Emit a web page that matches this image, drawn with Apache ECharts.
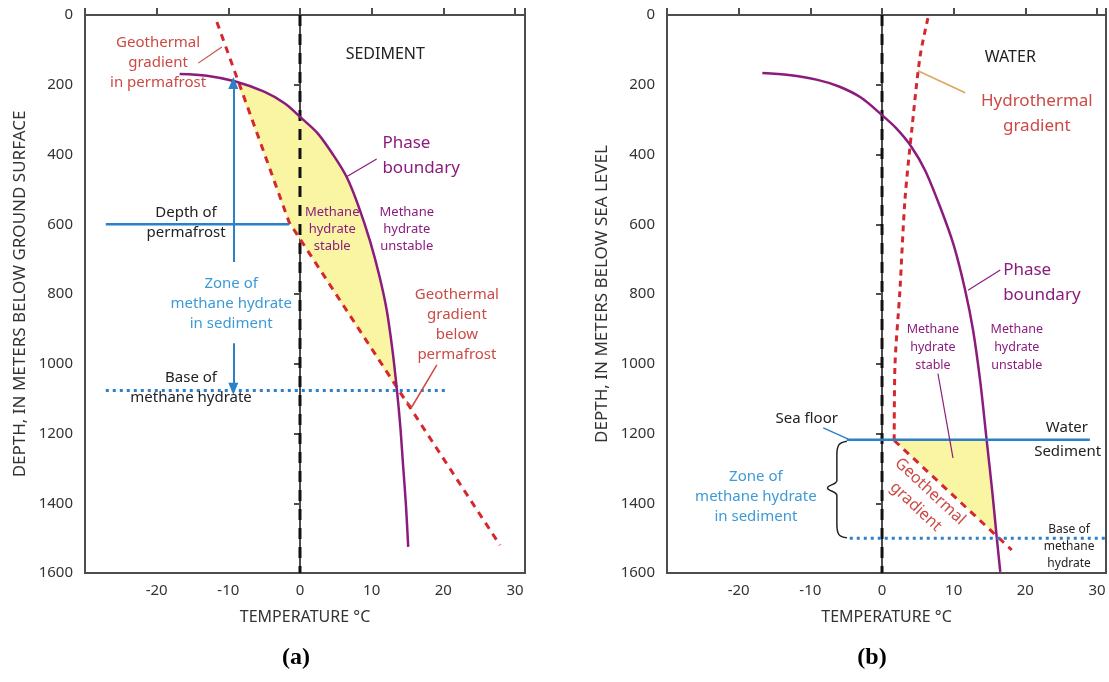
<!DOCTYPE html>
<html>
<head>
<meta charset="utf-8">
<script src="https://cdn.jsdelivr.net/npm/echarts@6/dist/echarts.min.js"></script>
<style>
  html, body { margin: 0; padding: 0; background: #fff; }
  #chart { width: 1109px; height: 682px; }
</style>
</head>
<body>
<div id="chart"></div>
<script>
  // ---- panel (a): permafrost ----
  const phaseA = [[-16.8, 169], [-13, 174], [-9.1, 190], [-5, 220], [-2, 255], [0, 292], [2.5, 340], [4.6, 400],
    [6.5, 464], [8.2, 550], [9.8, 650], [11.1, 750], [12.1, 846], [12.9, 960], [13.5, 1070], [14.0, 1180],
    [14.4, 1295], [14.8, 1410], [15.1, 1525]]
  const geoA = [[-11.6, 20], [-1.5, 595], [27.9, 1520]]
  const fillA = [[-8.8, 192], [-5, 220], [-2, 255], [0, 292], [2.5, 340], [4.6, 400], [6.5, 464], [8.2, 550],
    [9.8, 650], [11.1, 750], [12.1, 846], [12.9, 960], [13.55, 1075], [-1.5, 595]]
  const permafrostA = [[-27.1, 600], [-1.5, 600]]
  const baseA = [[-27.1, 1077], [20.5, 1077]]
  const arrowUpA = [[-9.3, 708], [-9.3, 195]]
  const arrowDownA = [[-9.3, 941], [-9.3, 1072]]
  const leaderRedA1 = [[-14.2, 138], [-10.9, 92]]
  const leaderRedA2 = [[14.9, 1108], [15.6, 1124], [19.1, 1003]]
  const leaderPurpleA = [[6.5, 464], [10.7, 413]]

  const redTextA = [[-19.8, 137, 'Geothermal\ngradient\nin permafrost'], [21.9, 889, 'Geothermal\ngradient\nbelow\npermafrost']]
  const phaseTextA = [[11.5, 402, 'Phase\nboundary']]
  const smallTextA = [[4.5, 614, 'Methane\nhydrate\nstable'], [14.9, 614, 'Methane\nhydrate\nunstable']]
  const headTextA = [[11.9, 112, 'SEDIMENT']]
  const blackTextA = [[-15.9, 596, 'Depth of\npermafrost'], [-15.2, 1070, 'Base of\nmethane hydrate']]
  const blueTextA = [[-9.6, 828, 'Zone of\nmethane hydrate\nin sediment']]

  // ---- panel (b): marine ----
  const phaseB = [[-16.7, 166], [-13, 172], [-9, 186], [-6, 205], [-3, 236], [0, 287], [2, 325], [4, 375], [6, 445],
    [8.1, 550], [10, 660], [11.6, 789], [12.7, 903], [13.7, 1050], [14.6, 1219], [15.4, 1370], [16.0, 1497], [16.5, 1597]]
  const hydroB = [[6.4, 9], [5.3, 120], [4.2, 320], [3.2, 530], [2.5, 789], [1.8, 1008], [1.7, 1220]]
  const geoB = [[1.7, 1220], [18.1, 1534]]
  const fillB = [[1.7, 1220], [14.6, 1219], [15.4, 1370], [15.9, 1490]]
  const seafloorB = [[-4.9, 1218], [29, 1218]]
  const baseB = [[-4.5, 1500], [31.25, 1500]]
  const braceB = [[-4.9, 1222], [-6.0, 1232], [-6.3, 1262], [-6.3, 1335], [-7.6, 1356], [-6.3, 1378], [-6.3, 1460],
    [-6.0, 1490], [-4.9, 1499]]
  const leaderHydroB = [[5.0, 160], [11.6, 223]]
  const leaderPhaseB = [[12.0, 789], [16.5, 731]]
  const leaderStableB = [[7.8, 1028], [9.9, 1270]]
  const leaderSeaB = [[-8.2, 1184], [-4.7, 1216]]

  const redTextB = [[21.6, 284, 'Hydrothermal\ngradient']]
  const geoTextB = [[5.7, 1388, 'Geothermal\ngradient']]
  const phaseTextB = [[16.9, 768, 'Phase\nboundary']]
  const smallTextB = [[7.1, 952, 'Methane\nhydrate\nstable'], [18.8, 952, 'Methane\nhydrate\nunstable']]
  const headTextB = [[17.9, 121, 'WATER']]
  const blackTextB = [[25.8, 1184, 'Water'], [25.9, 1253, 'Sediment'], [-10.5, 1158, 'Sea floor']]
  const tinyTextB = [[26.1, 1523, 'Base of\nmethane\nhydrate']]
  const blueTextB = [[-17.6, 1382, 'Zone of\nmethane hydrate\nin sediment']]

  const zeroLine = [[0, 0], [0, 1600]]
  const xTicks = [-20, -10, 0, 10, 20, 30]

  const FONT = '"Noto Sans", "Open Sans", sans-serif'
  const RED = '#d4282e', RED_TXT = '#cc4a45', PURPLE = '#8b1c7d', BLUE = '#2b80c8', BLUE_TXT = '#3d9ad6'
  const YELLOW = '#faf5a3', BLACK = '#111', AXIS = '#4d4d4d'

  function lineS(i, data, color, width, type, extra) {
    return Object.assign({
      type: 'line', xAxisIndex: i, yAxisIndex: i, data: data, showSymbol: false, symbol: 'none',
      silent: true, animation: false, z: 3,
      lineStyle: {color: color, width: width, type: type || 'solid', cap: 'butt'}
    }, extra || {})
  }

  function arrowS(i, pts, color) {
    return {
      type: 'line', xAxisIndex: i, yAxisIndex: i, data: [], silent: true, animation: false,
      markLine: {
        silent: true, animation: false, symbol: ['none', 'triangle'], symbolSize: [10, 12],
        label: {show: false},
        lineStyle: {color: color, width: 2, type: 'solid'},
        data: [[{coord: pts[0]}, {coord: pts[1]}]]
      }
    }
  }

  function fillS(i, pts) {
    return {
      type: 'custom', xAxisIndex: i, yAxisIndex: i, data: pts, silent: true, animation: false, z: 1,
      encode: {x: 0, y: 1},
      renderItem: function (params, api) {
        if (params.dataIndex !== 0) return
        return {type: 'polygon', shape: {points: pts.map(p => api.coord(p))}, style: {fill: YELLOW}}
      }
    }
  }

  function textS(i, items, color, size, opt) {
    opt = opt || {}
    return {
      type: 'custom', xAxisIndex: i, yAxisIndex: i, data: items.map(t => [t[0], t[1]]), silent: true,
      animation: false, z: 10, encode: {x: 0, y: 1},
      renderItem: function (params, api) {
        let p = api.coord([api.value(0), api.value(1)])
        return {
          type: 'text', x: p[0], y: p[1], rotation: (opt.rotate || 0) * Math.PI / 180,
          style: {
            text: items[params.dataIndex][2], fill: color, fontSize: size, fontFamily: FONT,
            align: opt.align || 'center', verticalAlign: 'middle', lineHeight: Math.round(size * (opt.lh || 1.35))
          }
        }
      }
    }
  }

  function xAxisOf(i, max) {
    return {
      type: 'value', gridIndex: i, min: -30, max: max, interval: 10,
      name: 'TEMPERATURE °C', nameLocation: 'middle', nameGap: 36,
      nameTextStyle: {fontFamily: FONT, fontSize: 16, color: '#333'},
      axisLine: {lineStyle: {color: AXIS, width: 2}},
      axisTick: {inside: true, length: 7, lineStyle: {color: AXIS, width: 2}},
      axisLabel: {
        margin: 10, fontFamily: FONT, fontSize: 15, color: '#333',
        formatter: v => (xTicks.indexOf(v) >= 0 ? String(v) : '')
      },
      splitLine: {show: false}
    }
  }

  function yAxisOf(i, name) {
    return {
      type: 'value', gridIndex: i, min: 0, max: 1600, interval: 200, inverse: true,
      name: name, nameLocation: 'middle', nameGap: 56, nameRotate: 90,
      nameTextStyle: {fontFamily: FONT, fontSize: 17, color: '#333'},
      axisLine: {lineStyle: {color: AXIS, width: 2}},
      axisTick: {length: 6, lineStyle: {color: AXIS, width: 2}},
      axisLabel: {margin: 12, fontFamily: FONT, fontSize: 15, color: '#333', formatter: v => String(v)},
      splitLine: {show: false}
    }
  }

  let chart = echarts.init(document.getElementById('chart'))
  let option = {
    backgroundColor: '#fff',
    animation: false,
    grid: [
      {left: 85, top: 15, width: 440, height: 558, show: true, borderColor: AXIS, borderWidth: 2},
      {left: 667, top: 15, width: 440, height: 558, show: true, borderColor: AXIS, borderWidth: 2}
    ],
    xAxis: [xAxisOf(0, 31.4), xAxisOf(1, 31.25)],
    yAxis: [yAxisOf(0, 'DEPTH, IN METERS BELOW GROUND SURFACE'), yAxisOf(1, 'DEPTH, IN METERS BELOW SEA LEVEL')],
    graphic: [
      {type: 'text', x: 296, y: 658, style: {text: '(a)', fill: '#000', fontSize: 24, fontWeight: 'bold',
        fontFamily: '"Liberation Serif", serif', align: 'center', verticalAlign: 'middle'}},
      {type: 'text', x: 872, y: 658, style: {text: '(b)', fill: '#000', fontSize: 24, fontWeight: 'bold',
        fontFamily: '"Liberation Serif", serif', align: 'center', verticalAlign: 'middle'}}
    ],
    series: [
      // panel (a)
      fillS(0, fillA),
      lineS(0, zeroLine, BLACK, 3, [11, 8]),
      lineS(0, geoA, RED, 3, [7, 6]),
      lineS(0, phaseA, PURPLE, 2.5, 'solid', {smooth: 0.3}),
      lineS(0, permafrostA, BLUE, 2.5),
      lineS(0, baseA, BLUE, 3, [3, 4]),
      arrowS(0, arrowUpA, BLUE),
      arrowS(0, arrowDownA, BLUE),
      lineS(0, leaderRedA1, RED_TXT, 1.2),
      lineS(0, leaderRedA2, RED_TXT, 1.5),
      lineS(0, leaderPurpleA, PURPLE, 1.2),
      textS(0, redTextA, RED_TXT, 15),
      textS(0, phaseTextA, PURPLE, 17, {align: 'left', lh: 1.45}),
      textS(0, smallTextA, PURPLE, 13, {lh: 1.3}),
      textS(0, headTextA, '#222', 16),
      textS(0, blackTextA, '#222', 15),
      textS(0, blueTextA, BLUE_TXT, 15),
      // panel (b)
      fillS(1, fillB),
      lineS(1, zeroLine, BLACK, 3, [11, 8]),
      lineS(1, hydroB, RED, 3, [6, 5], {smooth: 0.3}),
      lineS(1, geoB, RED, 3, [7, 6]),
      lineS(1, phaseB, PURPLE, 2.5, 'solid', {smooth: 0.3}),
      lineS(1, seafloorB, BLUE, 2.5),
      lineS(1, baseB, BLUE, 3, [3, 4]),
      lineS(1, braceB, '#222', 1.5, 'solid', {smooth: 0.4}),
      lineS(1, leaderHydroB, '#e0a55a', 1.5),
      lineS(1, leaderPhaseB, PURPLE, 1.2),
      lineS(1, leaderStableB, PURPLE, 1.2),
      lineS(1, leaderSeaB, BLUE, 1.5),
      textS(1, redTextB, RED_TXT, 17, {lh: 1.45}),
      textS(1, geoTextB, RED_TXT, 16, {rotate: -43, lh: 1.3}),
      textS(1, phaseTextB, PURPLE, 17, {align: 'left', lh: 1.45}),
      textS(1, smallTextB, PURPLE, 12.5, {lh: 1.4}),
      textS(1, headTextB, '#222', 16),
      textS(1, blackTextB, '#222', 15),
      textS(1, tinyTextB, '#222', 12, {lh: 1.4}),
      textS(1, blueTextB, BLUE_TXT, 15)
    ]
  }
  chart.setOption(option)
  window.onresize = chart.resize
</script>
</body>
</html>
